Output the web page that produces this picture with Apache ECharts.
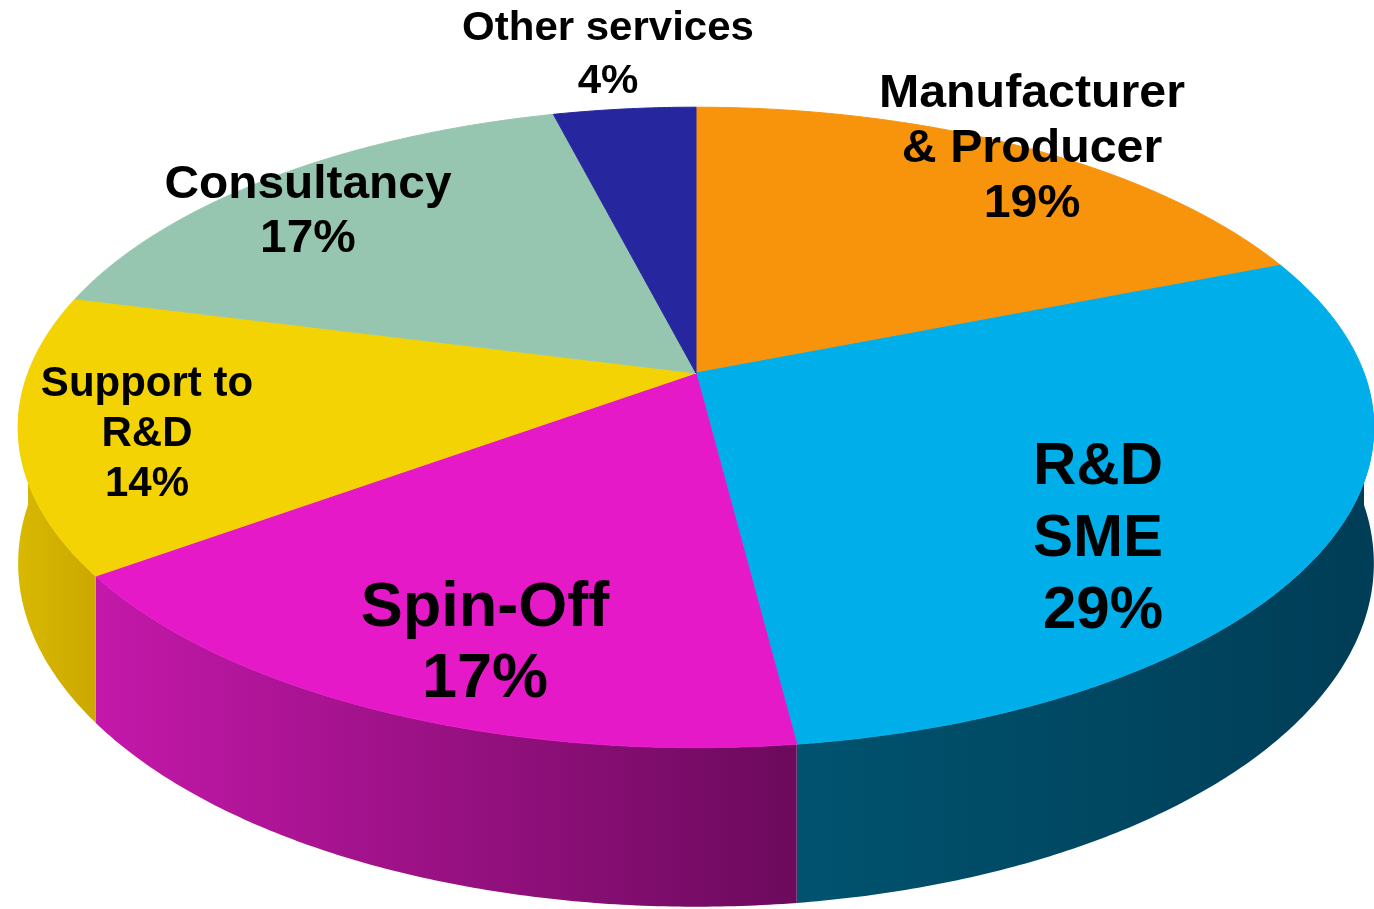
<!DOCTYPE html>
<html>
<head>
<meta charset="utf-8">
<script src="https://cdn.jsdelivr.net/npm/echarts@6/dist/echarts.min.js"></script>
<style>
  html, body { margin: 0; padding: 0; background: #ffffff; }
  #chart { width: 1374px; height: 909px; }
</style>
</head>
<body>
<div id="chart"></div>
<script>
// data
const categories = ['Manufacturer\n& Producer', 'R&D\nSME', 'Spin-Off', 'Support to\nR&D', 'Consultancy', 'Other services'];
const shares = [19, 29, 17, 14, 17, 4];

// styles
const topColors = ['#f7940c', '#00aeea', '#e619c8', '#f4d305', '#96c6b0', '#26269e'];
const wallColors = [
  ['#c87808', '#a86006'],
  ['#00536f', '#003d56'],
  ['#c418aa', '#6c0a5c'],
  ['#d8b802', '#cca800'],
  ['#78a08c', '#5f8070'],
  ['#1c1c78', '#141460']
];
const labelLayout = [
  { x: 1032, y: 149, size: 46, lh: 55, sx: 1.05, align: 'center' },
  { x: 1163, y: 539, size: 60, lh: 72, sx: 1.0, align: 'right' },
  { x: 485, y: 644, size: 63, lh: 71, sx: 1.0, align: 'center' },
  { x: 147, y: 434, size: 42, lh: 50, sx: 1.0, align: 'center' },
  { x: 308, y: 212, size: 46, lh: 54, sx: 1.04, align: 'center' },
  { x: 608, y: 55, size: 40, lh: 53, sx: 1.05, align: 'center' }
];

// perspective disc
const CX = 696, CY = 373, RX = 668, RY = 311, PERSP = 0.17, DEPTH = 132;
function project(deg, r, drop) {
  const t = deg * Math.PI / 180;
  const u = r * Math.sin(t), v = r * Math.cos(t);
  const k = 1 / (1 + PERSP * v);
  return [CX + RX * u * k, CY - RY * v * k + drop * k];
}

const total = shares.reduce((a, b) => a + b, 0);
let acc = 0;
const sliceData = shares.map((s) => {
  const item = [acc / total * 360, (acc + s) / total * 360];
  acc += s;
  return item;
});

function arcPoints(a, b, drop) {
  const pts = [];
  const n = Math.max(2, Math.ceil((b - a) / 0.5));
  for (let i = 0; i <= n; i++) pts.push(project(a + (b - a) * i / n, 1, drop));
  return pts;
}

const chart = echarts.init(document.getElementById('chart'));
chart.setOption({
  animation: false,
  series: [
    {
      type: 'custom',
      coordinateSystem: 'none',
      z: 1,
      data: sliceData,
      renderItem: function (params, api) {
        const a = Math.max(api.value(0), 90);
        const b = Math.min(api.value(1), 270);
        if (a >= b) return null;
        const top = arcPoints(a, b, 0);
        const bottom = arcPoints(a, b, DEPTH).reverse();
        const c = wallColors[params.dataIndex];
        return {
          type: 'polygon',
          shape: { points: top.concat(bottom) },
          style: {
            fill: new echarts.graphic.LinearGradient(0, 0, 1, 0, [
              { offset: 0, color: c[0] },
              { offset: 1, color: c[1] }
            ]),
            stroke: null
          }
        };
      }
    },
    {
      type: 'custom',
      coordinateSystem: 'none',
      z: 2,
      data: sliceData,
      renderItem: function (params, api) {
        const i = params.dataIndex;
        const pts = [[CX, CY]].concat(arcPoints(api.value(0), api.value(1), 0));
        const lay = labelLayout[i];
        return {
          type: 'group',
          children: [
            {
              type: 'polygon',
              shape: { points: pts },
              style: { fill: topColors[i], stroke: topColors[i], lineWidth: 1 }
            },
            {
              type: 'text',
              x: lay.x,
              y: lay.y,
              scaleX: lay.sx,
              z2: 10,
              style: {
                text: categories[i] + '\n' + shares[i] + '%',
                fill: '#000000',
                fontFamily: '"Liberation Sans", Arial, sans-serif',
                fontWeight: 'bold',
                fontSize: lay.size,
                lineHeight: lay.lh,
                align: lay.align,
                verticalAlign: 'middle'
              }
            }
          ]
        };
      }
    }
  ]
});
</script>
</body>
</html>
